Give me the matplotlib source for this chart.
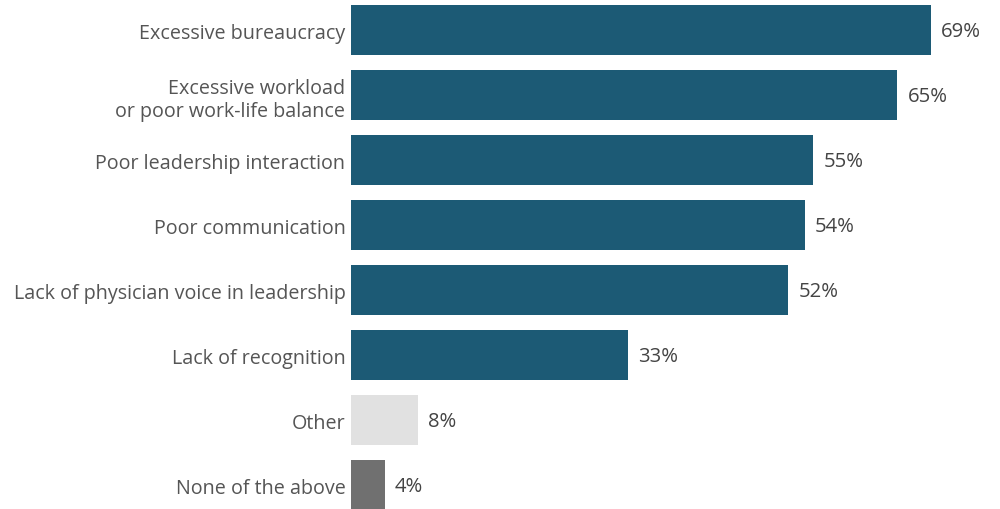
import matplotlib
matplotlib.use("Agg")
import matplotlib.pyplot as plt

categories = ["Excessive bureaucracy", "Excessive workload\nor poor work-life balance",
              "Poor leadership interaction", "Poor communication",
              "Lack of physician voice in leadership", "Lack of recognition",
              "Other", "None of the above"]
values = [69, 65, 55, 54, 52, 33, 8, 4]
colors = ["#1c5a75"] * 6 + ["#e1e1e1", "#707070"]

plt.rcParams['font.family'] = ['Open Sans', 'DejaVu Sans']

fig = plt.figure(figsize=(10, 5.1), dpi=100)
ax = fig.add_axes([0.351, 0.0, 0.649, 1.0])
y = list(range(len(categories)))
ax.barh(y, values, height=0.77, color=colors)
ax.set_xlim(0, 77.2)
ax.set_ylim(7.367, -0.478)
for yi, v in zip(y, values):
    ax.text(v + 1.2, yi + 0.02, f"{v}%", va="center", ha="left", fontsize=14.6, color="#444444")
ax.set_yticks(y)
ax.set_yticklabels(categories, fontsize=14.2, color="#555555", ha="right",
                   multialignment="right", linespacing=1.25)
ax.tick_params(axis="y", length=0, pad=4)
ax.set_xticks([])
for s in ax.spines.values():
    s.set_visible(False)
fig.savefig("out.png", dpi=100)
